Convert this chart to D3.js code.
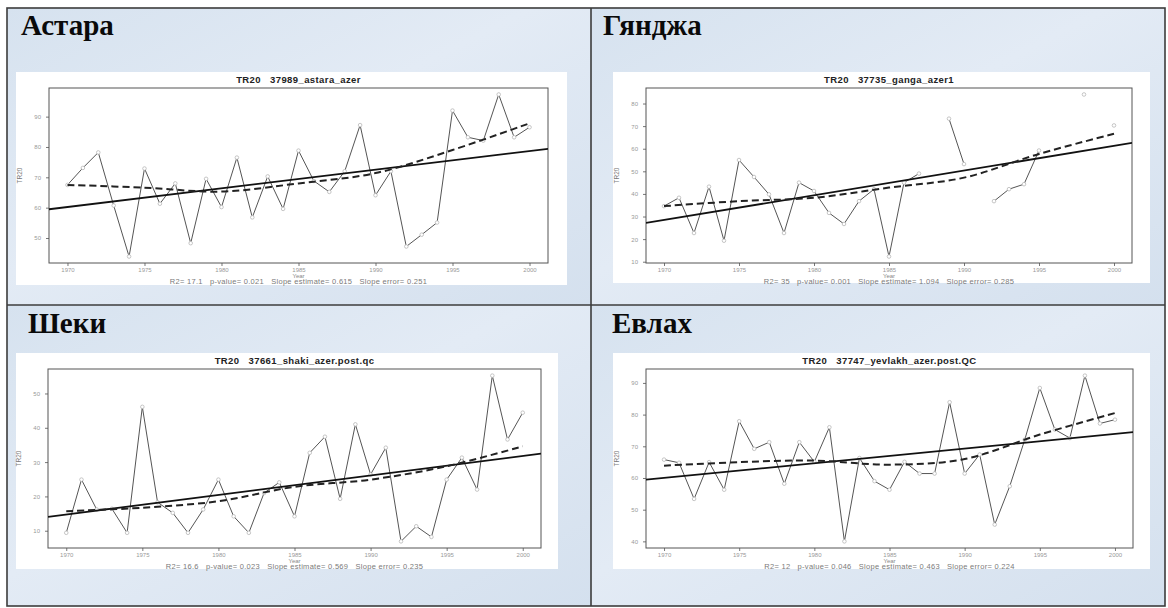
<!DOCTYPE html>
<html>
<head>
<meta charset="utf-8">
<script src="https://cdn.jsdelivr.net/npm/d3@7/dist/d3.min.js"></script>
<style>
  html, body { margin: 0; padding: 0; background: #ffffff; }
  svg { display: block; }
</style>
</head>
<body>
<script>
// ---- Data: annual TR20 (tropical nights) counts per station ----
const years = [1970, 1971, 1972, 1973, 1974, 1975, 1976, 1977, 1978, 1979, 1980,
               1981, 1982, 1983, 1984, 1985, 1986, 1987, 1988, 1989, 1990,
               1991, 1992, 1993, 1994, 1995, 1996, 1997, 1998, 1999, 2000];

const stationNames = ["Астара", "Гянджа", "Шеки", "Евлах"];
const plotTitles = [
  "TR20   37989_astara_azer",
  "TR20   37735_ganga_azer1",
  "TR20   37661_shaki_azer.post.qc",
  "TR20   37747_yevlakh_azer.post.QC"
];

const astaraTR20 = [67.5, 73.1, 78.2, 60.7, 43.9, 72.9, 61.3, 68.0, 48.3, 69.5, 60.2,
                    76.5, 56.8, 70.3, 59.6, 78.8, 68.8, 65.2, 72.0, 87.2, 64.1,
                    72.0, 47.2, 51.1, 55.1, 92.0, 83.2, 82.1, 97.3, 83.2, 86.5];
const ganjaTR20 = [34.6, 38.3, 22.7, 43.2, 19.3, 55.0, 47.5, 39.8, 22.7, 45.0, 41.3,
                   31.6, 26.7, 36.8, 42.1, 12.3, 45.0, 49.0, null, 73.3, 53.2,
                   null, 36.8, 42.1, 44.3, 59.2, null, null, 84.0, null, 70.3];
const shekiTR20 = [9.4, 24.9, 16.2, 16.4, 9.4, 46.1, 18.3, 15.2, 9.4, 16.2, 24.9,
                   14.2, 9.4, 21.0, 24.1, 14.2, 32.7, 37.4, 19.3, 41.0, 26.4,
                   34.2, 6.9, 11.3, 8.2, 24.9, 31.3, 22.0, 55.2, 36.6, 44.4];
const yevlakhTR20 = [65.8, 64.8, 53.4, 65.0, 56.3, 77.9, 69.2, 71.3, 58.2, 71.3, 65.1,
                     76.0, 40.0, 66.3, 59.0, 56.3, 65.1, 61.4, 61.4, 83.9, 61.4,
                     67.4, 45.3, 57.4, 72.1, 88.4, 75.3, 72.6, 92.3, 77.2, 78.4];

// Local (lowess) smooth, read every five years
const smoothYears = [1970, 1975, 1980, 1985, 1990, 1995, 2000];
const astaraSmooth = [67.5, 66.6, 65.3, 68.0, 71.4, 79.0, 87.8];
const ganjaSmooth = [34.6, 36.8, 38.3, 42.8, 47.2, 57.7, 66.6];
const shekiSmooth = [15.7, 16.7, 18.6, 22.8, 24.9, 28.8, 34.6];
const yevlakhSmooth = [63.9, 65.0, 65.5, 64.2, 66.0, 73.7, 80.5];

// Linear trend slopes (days per year) and the fit statistics printed under each plot
const trendSlopes = [0.615, 1.094, 0.569, 0.463];
const statLines = [
  "R2= 17.1   p-value= 0.021   Slope estimate= 0.615   Slope error= 0.251",
  "R2= 35   p-value= 0.001   Slope estimate= 1.094   Slope error= 0.285",
  "R2= 16.6   p-value= 0.023   Slope estimate= 0.569   Slope error= 0.235",
  "R2= 12   p-value= 0.046   Slope estimate= 0.463   Slope error= 0.224"
];

const xTickLabels = ["1970", "1975", "1980", "1985", "1990", "1995", "2000"];
const astaraYTicks = [50, 60, 70, 80, 90];
const ganjaYTicks = [10, 20, 30, 40, 50, 60, 70, 80];
const shekiYTicks = [10, 20, 30, 40, 50];
const yevlakhYTicks = [40, 50, 60, 70, 80, 90];

// ---- Page geometry ----
const W = 1168, H = 608;
const table = { left: 7, top: 8, right: 1165, bottom: 606, midX: 591, midY: 305 };

const panels = [
  { series: astaraTR20, smooth: astaraSmooth, yTicks: astaraYTicks,
    cell: [table.left, table.top, table.midX, table.midY],
    titleAt: [21, 35], image: [16, 72, 567, 285], plot: [49, 88, 548, 263] },
  { series: ganjaTR20, smooth: ganjaSmooth, yTicks: ganjaYTicks,
    cell: [table.midX, table.top, table.right, table.midY],
    titleAt: [603, 35], image: [613, 72, 1150, 283], plot: [646, 88, 1132, 263] },
  { series: shekiTR20, smooth: shekiSmooth, yTicks: shekiYTicks,
    cell: [table.left, table.midY, table.midX, table.bottom],
    titleAt: [28, 333], image: [16, 353, 558, 569], plot: [48, 369, 541, 548] },
  { series: yevlakhTR20, smooth: yevlakhSmooth, yTicks: yevlakhYTicks,
    cell: [table.midX, table.midY, table.right, table.bottom],
    titleAt: [612, 333], image: [613, 353, 1150, 569], plot: [646, 369, 1133, 548] }
];

const svg = d3.select("body").append("svg")
  .attr("width", W).attr("height", H)
  .attr("viewBox", `0 0 ${W} ${H}`);

const defs = svg.append("defs");
const grad = defs.append("linearGradient").attr("id", "cellFill")
  .attr("x1", "0").attr("y1", "0").attr("x2", "1").attr("y2", "1");
grad.append("stop").attr("offset", "0%").attr("stop-color", "#d6e2ef");
grad.append("stop").attr("offset", "45%").attr("stop-color", "#e3ebf5");
grad.append("stop").attr("offset", "100%").attr("stop-color", "#d4e0ee");

panels.forEach((p, k) => {
  const [cx0, cy0, cx1, cy1] = p.cell;
  const g = svg.append("g");

  // table cell
  g.append("rect").attr("x", cx0).attr("y", cy0)
    .attr("width", cx1 - cx0).attr("height", cy1 - cy0)
    .attr("fill", "url(#cellFill)");

  // station name
  g.append("text").attr("x", p.titleAt[0]).attr("y", p.titleAt[1])
    .attr("font-family", "'Liberation Serif', 'Times New Roman', serif")
    .attr("font-weight", "bold").attr("font-size", 29).attr("fill", "#0a0a0a")
    .text(stationNames[k]);

  // chart sheet
  const [ix0, iy0, ix1, iy1] = p.image;
  g.append("rect").attr("x", ix0).attr("y", iy0)
    .attr("width", ix1 - ix0).attr("height", iy1 - iy0)
    .attr("fill", "#ffffff");

  const [px0, py0, px1, py1] = p.plot;
  const pts = years.map((yr, i) => ({ year: yr, v: p.series[i] }));
  const present = pts.filter(d => d.v != null);

  // R-style 4% padding of the data range
  const xExt = d3.extent(years);
  const xPad = (xExt[1] - xExt[0]) * 0.04;
  const yExt = d3.extent(present, d => d.v);
  const yPad = (yExt[1] - yExt[0]) * 0.04;
  const x = d3.scaleLinear().domain([xExt[0] - xPad, xExt[1] + xPad]).range([px0, px1]);
  const y = d3.scaleLinear().domain([yExt[0] - yPad, yExt[1] + yPad]).range([py1, py0]);

  const font = "'Liberation Sans', Arial, sans-serif";

  // plot title
  g.append("text").attr("x", (px0 + px1) / 2).attr("y", py0 - 5)
    .attr("text-anchor", "middle").attr("font-family", font)
    .attr("font-weight", "bold").attr("font-size", 9.5).attr("fill", "#222")
    .attr("letter-spacing", 0.4)
    .attr("xml:space", "preserve")
    .text(plotTitles[k]);

  // axes
  const xAxis = d3.axisBottom(x)
    .tickValues(xTickLabels.map(Number))
    .tickFormat(d3.format("d")).tickSize(3).tickPadding(2);
  const gx = g.append("g").attr("transform", `translate(0,${py1})`).call(xAxis);
  gx.select(".domain").remove();
  gx.selectAll(".tick line").attr("stroke", "#777");
  gx.selectAll(".tick text").attr("font-family", font).attr("font-size", 6)
    .attr("fill", "#999");

  const yAxis = d3.axisLeft(y).tickValues(p.yTicks).tickSize(3).tickPadding(5);
  const gy = g.append("g").attr("transform", `translate(${px0},0)`).call(yAxis);
  gy.select(".domain").remove();
  gy.selectAll(".tick line").attr("stroke", "#777");
  gy.selectAll(".tick text").attr("font-family", font).attr("font-size", 6)
    .attr("fill", "#999");

  // plot box
  g.append("rect").attr("x", px0).attr("y", py0)
    .attr("width", px1 - px0).attr("height", py1 - py0)
    .attr("fill", "none").attr("stroke", "#555").attr("stroke-width", 1);

  // axis titles
  g.append("text")
    .attr("transform", `translate(${px0 - 27},${(py0 + py1) / 2}) rotate(-90)`)
    .attr("text-anchor", "middle").attr("font-family", font)
    .attr("font-size", 6.5).attr("fill", "#777").text("TR20");
  g.append("text").attr("x", (px0 + px1) / 2).attr("y", py1 + 15)
    .attr("text-anchor", "middle").attr("font-family", font)
    .attr("font-size", 6).attr("fill", "#888").text("Year");
  g.append("text").attr("x", (px0 + px1) / 2).attr("y", py1 + 21)
    .attr("text-anchor", "middle").attr("font-family", font)
    .attr("font-size", 7.5).attr("fill", "#7a7a7a").attr("letter-spacing", 0.3)
    .attr("xml:space", "preserve").text(statLines[k]);

  const clip = "clip" + k;
  defs.append("clipPath").attr("id", clip).append("rect")
    .attr("x", px0).attr("y", py0).attr("width", px1 - px0).attr("height", py1 - py0);
  const inner = g.append("g").attr("clip-path", `url(#${clip})`);

  // observed series (gaps where data are missing)
  const line = d3.line().defined(d => d.v != null)
    .x(d => x(d.year)).y(d => y(d.v));
  inner.append("path").datum(pts).attr("d", line)
    .attr("fill", "none").attr("stroke", "#555").attr("stroke-width", 1);
  inner.selectAll("circle.obs").data(present).join("circle")
    .attr("class", "obs").attr("cx", d => x(d.year)).attr("cy", d => y(d.v))
    .attr("r", 1.8).attr("fill", "#fff").attr("stroke", "#b8b8b8").attr("stroke-width", 0.8);

  // least-squares trend through the data means with the reported slope
  const mx = d3.mean(present, d => d.year);
  const my = d3.mean(present, d => d.v);
  const slope = trendSlopes[k];
  const xd = x.domain();
  const trend = xd.map(t => ({ year: t, v: my + slope * (t - mx) }));
  inner.append("path").datum(trend).attr("d", line)
    .attr("fill", "none").attr("stroke", "#111").attr("stroke-width", 1.8);

  // local smooth, dashed
  const sm = smoothYears.map((yr, i) => ({ year: yr, v: p.smooth[i] }));
  inner.append("path").datum(sm)
    .attr("d", d3.line().curve(d3.curveCatmullRom.alpha(0.5))
      .x(d => x(d.year)).y(d => y(d.v)))
    .attr("fill", "none").attr("stroke", "#222").attr("stroke-width", 2)
    .attr("stroke-dasharray", "7,4");
});

// table rules
const rules = svg.append("g").attr("stroke", "#3c3c3c").attr("stroke-width", 1.6);
rules.append("rect").attr("x", table.left).attr("y", table.top)
  .attr("width", table.right - table.left).attr("height", table.bottom - table.top)
  .attr("fill", "none");
rules.append("line").attr("x1", table.midX).attr("x2", table.midX)
  .attr("y1", table.top).attr("y2", table.bottom);
rules.append("line").attr("x1", table.left).attr("x2", table.right)
  .attr("y1", table.midY).attr("y2", table.midY);
</script>
</body>
</html>
